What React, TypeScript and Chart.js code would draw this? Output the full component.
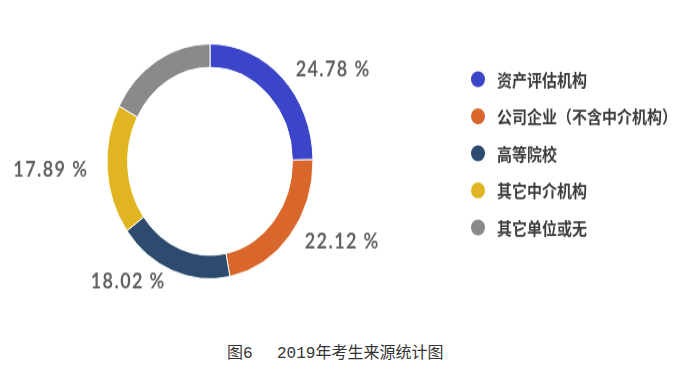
import React, { useEffect, useRef } from "react";
import { Chart, registerables } from "chart.js";

Chart.register(...registerables);

const categories = ["资产评估机构", "公司企业（不含中介机构）", "高等院校", "其它中介机构", "其它单位或无"];
const shares = [24.78, 22.12, 18.02, 17.89, 17.19];
const shareLabels = ["24.78 %", "22.12 %", "18.02 %", "17.89 %", ""];
const colors = ["#3b45c9", "#d9662b", "#2d4b6f", "#e0b521", "#8a8a8a"];
const captionFigure = "图6";
const captionTitle = "2019年考生来源统计图";

const SCALE_Y = 1.14;

const sliceLabelPlugin = {
  id: "sliceLabels",
  afterDatasetsDraw(chart: any) {
    const ctx = chart.ctx;
    const meta = chart.getDatasetMeta(0);
    ctx.save();
    ctx.font = 'bold 18px Lato';
    try {
      (ctx as any).letterSpacing = "1.4px";
    } catch (e) {}
    ctx.fillStyle = "#626262";
    ctx.textBaseline = "middle";
    meta.data.forEach((arc: any, i: number) => {
      const text = shareLabels[i];
      if (!text) return;
      const { x, y, startAngle, endAngle, outerRadius } = arc.getProps(
        ["x", "y", "startAngle", "endAngle", "outerRadius"],
        true
      );
      const mid = (startAngle + endAngle) / 2;
      const c = Math.cos(mid);
      const s = Math.sin(mid);
      const lx = x + c * (outerRadius + 19);
      const ly = y + s * (outerRadius + 10);
      ctx.textAlign = c >= 0 ? "left" : "right";
      ctx.fillText(text, lx, ly);
    });
    ctx.restore();
  },
};

const sideLegendPlugin = {
  id: "sideLegend",
  afterDraw(chart: any) {
    const { ctx, chartArea } = chart;
    const meta = chart.getDatasetMeta(0);
    const cy = meta.data[0].y;
    const labels: string[] = chart.data.labels;
    const bg: string[] = chart.data.datasets[0].backgroundColor;
    const rowH = 32.5;
    const n = labels.length;
    const cx = chartArea.right + 58;
    const y0 = cy - 7 - (rowH * (n - 1)) / 2;
    ctx.save();
    ctx.font = 'bold 15px "Noto Sans CJK SC"';
    ctx.textBaseline = "middle";
    ctx.textAlign = "left";
    labels.forEach((lab, i) => {
      const y = y0 + i * rowH;
      ctx.beginPath();
      ctx.arc(cx, y, 7, 0, Math.PI * 2);
      ctx.fillStyle = bg[i];
      ctx.fill();
      ctx.fillStyle = "#3c3c3c";
      ctx.fillText(lab, cx + 19, y + 0.5);
    });
    ctx.restore();
  },
};

export default function App() {
  const ref = useRef<HTMLCanvasElement | null>(null);
  useEffect(() => {
    if (!ref.current) return;
    const chart = new Chart(ref.current, {
      type: "doughnut",
      data: {
        labels: categories,
        datasets: [
          {
            data: shares,
            backgroundColor: colors,
            borderColor: "#ffffff",
            borderWidth: 1,
            hoverOffset: 0,
          },
        ],
      },
      options: {
        responsive: false,
        animation: false,
        cutout: "80%",
        layout: { padding: { top: 38, bottom: 37, left: 0, right: 277 } },
        plugins: {
          legend: { display: false },
          tooltip: { enabled: false },
          title: { display: false },
        },
      },
      plugins: [sliceLabelPlugin, sideLegendPlugin],
    });
    return () => chart.destroy();
  }, []);

  const captionStyle: React.CSSProperties = {
    position: "absolute",
    top: 344,
    fontFamily: '"Liberation Mono", "Noto Sans CJK SC", sans-serif',
    fontSize: 16,
    lineHeight: "20px",
    color: "#333",
    whiteSpace: "pre",
  };

  return (
    <div
      style={{
        position: "fixed",
        left: 0,
        top: 0,
        width: 697,
        height: 377,
        background: "#ffffff",
        overflow: "hidden",
      }}
    >
      <canvas
        ref={ref}
        width={697}
        height={282}
        style={{
          display: "block",
          transform: `scaleY(${SCALE_Y})`,
          transformOrigin: "0 0",
        }}
      />
      <span style={{ ...captionStyle, left: 227 }}>{captionFigure}</span>
      <span style={{ ...captionStyle, left: 277 }}>{captionTitle}</span>
    </div>
  );
}
